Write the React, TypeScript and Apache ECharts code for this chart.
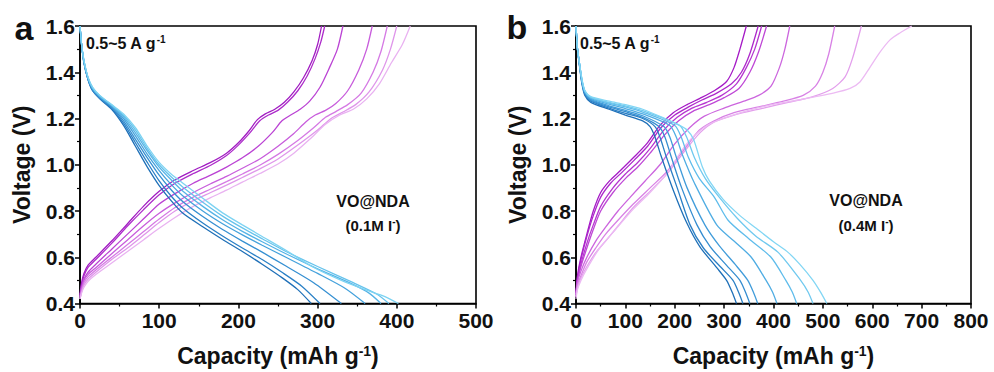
import React, { useEffect, useRef } from 'react';
import * as echarts from 'echarts';

// Panel a: discharge (blue) curves, [capacity mAh/g, voltage V]
const dischargeA: number[][][] = [
  [[0,1.6],[2,1.52],[5,1.44],[10,1.37],[16,1.32],[25,1.285],[40,1.24],[55,1.17],[70,1.08],[85,0.99],[100,0.91],[115,0.845],[130,0.79],[155,0.732],[180,0.677],[205,0.625],[230,0.57],[255,0.512],[275,0.46],[292,0.4]],
  [[0,1.6],[2,1.52],[5,1.44],[10,1.37],[16,1.32],[25,1.288],[40,1.245],[55,1.18],[70,1.095],[85,1.01],[100,0.93],[115,0.865],[130,0.812],[155,0.748],[180,0.692],[205,0.64],[230,0.59],[255,0.535],[280,0.475],[303,0.4]],
  [[0,1.6],[2,1.52],[5,1.445],[10,1.372],[16,1.325],[25,1.29],[40,1.25],[55,1.19],[70,1.11],[85,1.03],[100,0.955],[115,0.892],[130,0.84],[155,0.776],[180,0.72],[205,0.67],[230,0.622],[260,0.562],[295,0.49],[330,0.4]],
  [[0,1.6],[2,1.52],[5,1.445],[10,1.375],[16,1.328],[25,1.293],[40,1.253],[55,1.2],[70,1.125],[85,1.045],[100,0.975],[115,0.915],[130,0.865],[155,0.8],[180,0.745],[205,0.697],[230,0.652],[260,0.6],[300,0.53],[335,0.465],[360,0.4]],
  [[0,1.6],[2,1.52],[5,1.448],[10,1.377],[16,1.33],[25,1.296],[40,1.256],[55,1.208],[70,1.138],[85,1.06],[100,0.99],[115,0.935],[130,0.885],[155,0.82],[180,0.762],[205,0.712],[230,0.667],[260,0.615],[300,0.55],[340,0.49],[365,0.445],[380,0.4]],
  [[0,1.6],[2,1.52],[5,1.45],[10,1.378],[16,1.332],[25,1.298],[40,1.258],[55,1.214],[70,1.15],[85,1.07],[100,1.0],[115,0.948],[130,0.903],[155,0.838],[180,0.778],[205,0.727],[230,0.68],[260,0.625],[300,0.56],[345,0.49],[375,0.44],[390,0.4]],
  [[0,1.6],[2,1.52],[5,1.45],[10,1.38],[16,1.335],[25,1.3],[40,1.26],[55,1.22],[70,1.16],[85,1.08],[100,1.01],[115,0.96],[130,0.92],[155,0.855],[180,0.792],[205,0.74],[230,0.69],[260,0.63],[294,0.558],[330,0.5],[360,0.46],[385,0.43],[402,0.4]],
];

// Panel a: charge (magenta) curves
const chargeA: number[][][] = [
  [[0,0.44],[2,0.49],[5,0.53],[10,0.565],[20,0.6],[40,0.67],[60,0.745],[80,0.82],[100,0.885],[120,0.935],[143,0.975],[165,1.01],[185,1.05],[200,1.095],[213,1.145],[224,1.195],[234,1.22],[246,1.24],[258,1.27],[270,1.315],[282,1.375],[293,1.45],[300,1.52],[305,1.6]],
  [[0,0.43],[2,0.48],[5,0.52],[10,0.555],[20,0.59],[40,0.66],[60,0.735],[80,0.805],[100,0.87],[120,0.92],[143,0.962],[165,0.998],[185,1.04],[200,1.085],[215,1.14],[227,1.19],[238,1.215],[250,1.235],[262,1.27],[275,1.32],[287,1.385],[297,1.46],[304,1.53],[309,1.6]],
  [[0,0.43],[2,0.47],[5,0.505],[10,0.535],[20,0.57],[40,0.635],[60,0.7],[80,0.765],[100,0.83],[120,0.875],[143,0.92],[165,0.955],[185,0.99],[205,1.03],[225,1.08],[243,1.14],[255,1.19],[266,1.215],[278,1.24],[290,1.275],[303,1.335],[315,1.42],[325,1.5],[332,1.6]],
  [[0,0.43],[2,0.465],[5,0.5],[10,0.525],[20,0.555],[40,0.615],[60,0.675],[80,0.735],[100,0.79],[120,0.835],[143,0.88],[165,0.918],[185,0.95],[205,0.985],[227,1.025],[250,1.08],[270,1.135],[285,1.185],[297,1.215],[310,1.235],[323,1.265],[338,1.32],[352,1.41],[362,1.5],[369,1.6]],
  [[0,0.42],[2,0.455],[5,0.49],[10,0.515],[20,0.545],[40,0.6],[60,0.655],[80,0.71],[100,0.765],[120,0.815],[143,0.86],[165,0.895],[185,0.927],[205,0.96],[227,0.998],[250,1.045],[275,1.105],[295,1.16],[310,1.205],[323,1.23],[338,1.26],[355,1.31],[370,1.4],[380,1.49],[388,1.6]],
  [[0,0.42],[2,0.45],[5,0.48],[10,0.505],[20,0.535],[40,0.59],[60,0.64],[80,0.695],[100,0.75],[120,0.8],[143,0.845],[165,0.88],[185,0.912],[205,0.945],[227,0.982],[250,1.025],[275,1.085],[300,1.15],[317,1.2],[332,1.228],[348,1.26],[365,1.315],[382,1.41],[392,1.5],[400,1.6]],
  [[0,0.42],[2,0.445],[5,0.47],[10,0.495],[20,0.525],[40,0.575],[60,0.625],[80,0.675],[100,0.725],[120,0.772],[143,0.82],[165,0.858],[185,0.89],[205,0.925],[227,0.962],[250,1.003],[270,1.05],[290,1.11],[310,1.175],[328,1.215],[345,1.24],[362,1.285],[378,1.35],[393,1.44],[407,1.52],[417,1.6]],
];

// Panel b: discharge (blue) curves
const dischargeB: number[][][] = [
  [[0,1.6],[3,1.5],[7,1.43],[12,1.35],[18,1.3],[30,1.27],[67,1.24],[100,1.215],[135,1.19],[150,1.165],[160,1.12],[172,1.04],[197,0.89],[224,0.75],[251,0.645],[285,0.555],[305,0.5],[318,0.44],[325,0.4]],
  [[0,1.6],[3,1.5],[7,1.43],[12,1.355],[18,1.305],[30,1.275],[67,1.245],[100,1.222],[135,1.2],[160,1.165],[170,1.12],[182,1.04],[205,0.9],[231,0.74],[258,0.64],[292,0.56],[318,0.5],[331,0.44],[338,0.4]],
  [[0,1.6],[3,1.5],[7,1.435],[12,1.36],[18,1.31],[30,1.28],[67,1.25],[100,1.23],[135,1.205],[168,1.165],[180,1.12],[192,1.04],[214,0.9],[245,0.74],[272,0.645],[305,0.565],[332,0.5],[345,0.44],[352,0.4]],
  [[0,1.6],[3,1.5],[7,1.435],[12,1.36],[18,1.31],[30,1.283],[67,1.255],[100,1.235],[135,1.212],[178,1.165],[190,1.12],[202,1.04],[225,0.9],[261,0.74],[290,0.65],[322,0.57],[348,0.5],[361,0.44],[368,0.4]],
  [[0,1.6],[3,1.5],[7,1.44],[12,1.365],[18,1.315],[30,1.287],[67,1.262],[100,1.243],[135,1.22],[190,1.17],[203,1.12],[216,1.04],[240,0.92],[285,0.74],[320,0.67],[355,0.6],[385,0.5],[398,0.45],[407,0.4]],
  [[0,1.6],[3,1.5],[7,1.44],[12,1.365],[18,1.318],[30,1.29],[67,1.267],[100,1.25],[135,1.228],[200,1.17],[213,1.12],[228,1.03],[250,0.94],[280,0.86],[308,0.76],[350,0.68],[395,0.6],[425,0.5],[438,0.45],[447,0.4]],
  [[0,1.6],[3,1.5],[7,1.44],[12,1.37],[18,1.32],[30,1.292],[67,1.27],[100,1.255],[135,1.234],[210,1.17],[224,1.12],[240,1.03],[262,0.94],[290,0.86],[326,0.77],[365,0.69],[410,0.62],[455,0.5],[470,0.45],[480,0.4]],
  [[0,1.6],[3,1.5],[7,1.44],[12,1.37],[18,1.32],[30,1.295],[67,1.275],[100,1.26],[135,1.24],[180,1.2],[210,1.17],[225,1.15],[238,1.11],[256,0.99],[270,0.93],[298,0.85],[332,0.78],[365,0.725],[400,0.667],[430,0.62],[453,0.57],[480,0.5],[495,0.45],[508,0.4]],
];

// Panel b: charge (magenta) curves
const chargeB: number[][][] = [
  [[0,0.45],[3,0.52],[10,0.6],[22,0.7],[35,0.8],[50,0.88],[68,0.93],[90,0.975],[116,1.03],[143,1.09],[170,1.17],[197,1.225],[225,1.26],[251,1.287],[280,1.32],[305,1.36],[320,1.42],[332,1.5],[345,1.6]],
  [[0,0.44],[3,0.51],[10,0.59],[22,0.69],[35,0.78],[50,0.86],[70,0.92],[92,0.965],[118,1.02],[145,1.08],[172,1.16],[200,1.215],[228,1.25],[255,1.28],[285,1.31],[315,1.35],[335,1.4],[352,1.48],[369,1.6]],
  [[0,0.44],[3,0.5],[10,0.57],[22,0.66],[35,0.74],[50,0.82],[75,0.9],[100,0.96],[125,1.01],[150,1.07],[178,1.15],[205,1.205],[235,1.245],[265,1.27],[295,1.3],[325,1.35],[345,1.42],[362,1.5],[376,1.6]],
  [[0,0.44],[3,0.5],[10,0.56],[22,0.64],[35,0.72],[50,0.8],[75,0.88],[100,0.94],[125,0.99],[150,1.05],[180,1.13],[208,1.19],[240,1.235],[270,1.26],[300,1.29],[330,1.33],[352,1.4],[370,1.49],[386,1.6]],
  [[0,0.43],[3,0.49],[10,0.54],[22,0.6],[40,0.67],[60,0.73],[85,0.8],[110,0.86],[140,0.93],[170,1.0],[200,1.09],[230,1.16],[260,1.21],[300,1.245],[340,1.275],[370,1.3],[395,1.34],[412,1.42],[423,1.5],[433,1.6]],
  [[0,0.43],[3,0.48],[10,0.52],[22,0.58],[40,0.64],[60,0.7],[85,0.76],[116,0.83],[150,0.9],[184,0.97],[224,1.08],[250,1.15],[280,1.19],[320,1.225],[370,1.25],[420,1.275],[460,1.3],[485,1.34],[500,1.4],[512,1.48],[524,1.6]],
  [[0,0.43],[3,0.47],[10,0.51],[22,0.56],[40,0.62],[60,0.67],[85,0.735],[116,0.815],[150,0.885],[184,0.96],[224,1.07],[252,1.14],[280,1.185],[320,1.215],[380,1.245],[430,1.27],[480,1.295],[520,1.33],[545,1.38],[560,1.46],[578,1.6]],
  [[0,0.42],[3,0.46],[10,0.5],[22,0.55],[48,0.64],[80,0.72],[116,0.808],[150,0.88],[184,0.963],[224,1.09],[265,1.17],[318,1.215],[386,1.255],[450,1.28],[521,1.31],[555,1.33],[575,1.358],[595,1.42],[615,1.485],[636,1.54],[656,1.57],[680,1.6]],
];

const blueA = ['#1f70b8', '#2a80c6', '#3690d2', '#45a2dc', '#55b3e6', '#66c3ec', '#7dd3f2'];
const magA = ['#a11cc2', '#ad2cca', '#bb44d4', '#c85ddc', '#d57ae4', '#df96ea', '#e9b2f1'];
const blueB = ['#1f70b8', '#2a7fc5', '#358dd0', '#419cda', '#50ade3', '#5fbceb', '#70c9ef', '#82d6f4'];
const magB = ['#a51ac6', '#ad28cb', '#b636d0', '#bf48d6', '#cc66de', '#d882e5', '#e39fec', '#ecbaf3'];

const xTicksA = { min: 0, max: 500, interval: 100 };
const xTicksB = { min: 0, max: 800, interval: 100 };
const yTicks = { min: 0.4, max: 1.6, interval: 0.2 };

const FONT = 'Liberation Sans, Arial, Helvetica, sans-serif';

export default function App() {
  const ref = useRef<HTMLDivElement>(null);
  useEffect(() => {
    const chart = echarts.init(ref.current!, null, { renderer: 'svg' });

    const axisCommon = {
      type: 'value' as const,
      axisLine: { show: true, onZero: false, lineStyle: { color: '#000', width: 1.6 } },
      axisTick: { show: true, inside: false, length: 5, lineStyle: { color: '#000', width: 1.5 } },
      minorTick: { show: true, splitNumber: 2, length: 3, lineStyle: { color: '#000', width: 1.2 } },
      splitLine: { show: false },
      minorSplitLine: { show: false },
    };
    const xName = '{a|Capacity (mAh g}{s|-1}{a|)}';
    const xNameStyle = {
      rich: {
        a: { fontSize: 23, fontWeight: 'bold', fontFamily: FONT, color: '#111' },
        s: { fontSize: 14, fontWeight: 'bold', fontFamily: FONT, color: '#111', verticalAlign: 'top', padding: [0, 0, 10, 0] },
      },
    };
    const xAxis = (i: number, t: any) => ({
      ...axisCommon,
      gridIndex: i,
      ...t,
      axisLabel: { fontSize: 21, fontWeight: 'bold', color: '#111', fontFamily: FONT, margin: 6 },
      name: xName,
      nameLocation: 'middle',
      nameGap: 40,
      nameTextStyle: xNameStyle,
    });
    const yAxis = (i: number) => ({
      ...axisCommon,
      gridIndex: i,
      ...yTicks,
      axisLabel: { fontSize: 21, fontWeight: 'bold', color: '#111', fontFamily: FONT, margin: 5, formatter: (v: number) => v.toFixed(1) },
      name: 'Voltage (V)',
      nameLocation: 'middle',
      nameGap: 47,
      nameTextStyle: { fontSize: 23, fontWeight: 'bold', fontFamily: FONT, color: '#111' },
    });

    const mk = (curves: number[][][], colors: string[], idx: number, tag: string) =>
      curves.map((c, k) => ({
        type: 'line',
        name: tag + k,
        xAxisIndex: idx,
        yAxisIndex: idx,
        data: c,
        showSymbol: false,
        symbol: 'none',
        smooth: 0.25,
        clip: true,
        lineStyle: { color: colors[k], width: 1.3 },
        z: 2,
      }));

    const txt = (x: number, y: number, text: string, size: number, align: string, rich?: any) => ({
      type: 'text',
      x,
      y,
      style: {
        text,
        fontSize: size,
        fontWeight: 'bold',
        fontFamily: FONT,
        fill: '#111',
        align,
        verticalAlign: 'middle',
        ...(rich ? { rich } : {}),
      },
    });
    const annRich = {
      a: { fontSize: 16, fontWeight: 'bold', fontFamily: FONT, fill: '#111' },
      s: { fontSize: 10, fontWeight: 'bold', fontFamily: FONT, fill: '#111', verticalAlign: 'top', padding: [0, 0, 8, 0] },
    };
    const iRich = {
      a: { fontSize: 15, fontWeight: 'bold', fontFamily: FONT, fill: '#111' },
      s: { fontSize: 10, fontWeight: 'bold', fontFamily: FONT, fill: '#111', verticalAlign: 'top', padding: [0, 0, 8, 0] },
    };

    chart.setOption({
      animation: false,
      backgroundColor: '#fff',
      grid: [
        { left: 80, top: 26, width: 396, height: 284, show: true, borderColor: '#000', borderWidth: 1.6, backgroundColor: 'transparent' },
        { left: 576, top: 26, width: 395, height: 284, show: true, borderColor: '#000', borderWidth: 1.6, backgroundColor: 'transparent' },
      ],
      xAxis: [xAxis(0, xTicksA), xAxis(1, xTicksB)],
      yAxis: [yAxis(0), yAxis(1)],
      series: [
        ...mk(chargeA, magA, 0, 'cA'),
        ...mk(dischargeA, blueA, 0, 'dA'),
        ...mk(chargeB, magB, 1, 'cB'),
        ...mk(dischargeB, blueB, 1, 'dB'),
      ],
      graphic: [
        txt(24, 28, 'a', 34, 'center'),
        txt(517, 27, 'b', 34, 'center'),
        txt(86, 43, '{a|0.5~5 A g}{s|-1}', 16, 'left', annRich),
        txt(580, 43, '{a|0.5~5 A g}{s|-1}', 16, 'left', annRich),
        txt(373, 201, 'VO@NDA', 16, 'center'),
        txt(373, 225, '{a|(0.1M I}{s|-}{a|)}', 15, 'center', iRich),
        txt(866, 200, 'VO@NDA', 16, 'center'),
        txt(866, 225, '{a|(0.4M I}{s|-}{a|)}', 15, 'center', iRich),
      ],
    });
    return () => chart.dispose();
  }, []);
  return (
    <div
      ref={ref}
      style={{ position: 'fixed', left: 0, top: 0, width: 994, height: 372, background: '#fff' }}
    />
  );
}
